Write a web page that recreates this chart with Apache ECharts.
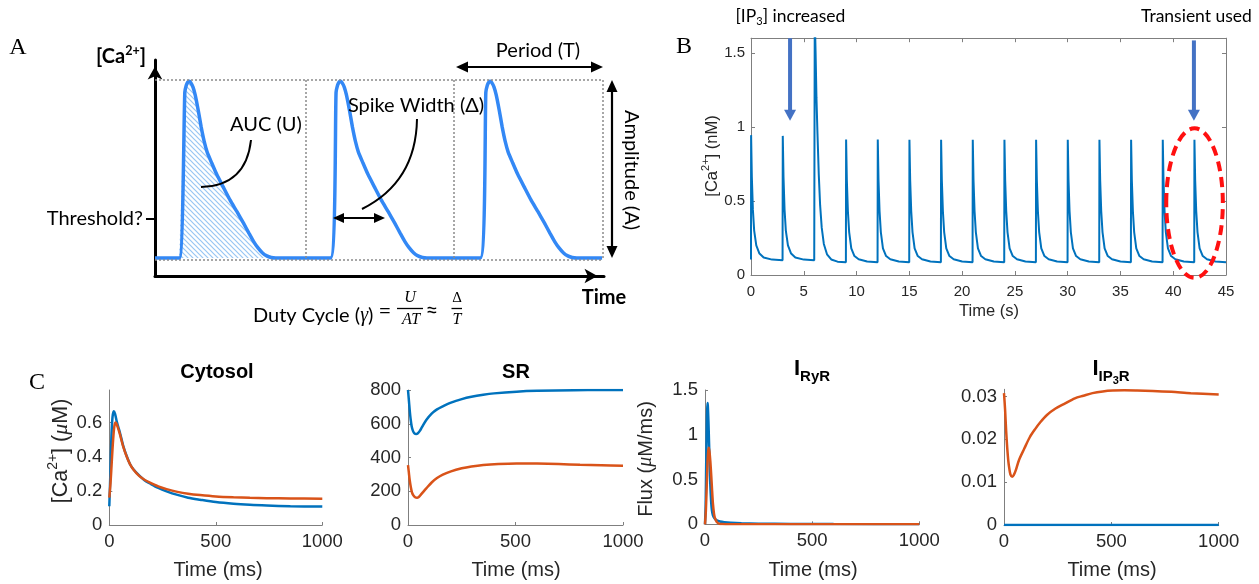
<!DOCTYPE html>
<html><head><meta charset="utf-8">
<script src="https://cdn.jsdelivr.net/npm/echarts@6/dist/echarts.min.js"></script>
<style>html,body{margin:0;padding:0;background:#fff}#c{width:1259px;height:584px}</style>
</head><body><div id="c"></div>
<script>
// ---------- Panel A (schematic) : time units, normalised [Ca2+] ----------
const aSpike1 = [[1.63,0],[2.0,0.93],[2.1,0.97],[2.2,0.988],[2.3,0.992],[2.4,0.985],[2.55,0.96],[2.7,0.915],[2.9,0.83],[3.1,0.735],[3.3,0.655],[3.5,0.595],[3.8,0.535],[4.14,0.47],[4.6,0.395],[5.03,0.326],[5.5,0.26],[5.93,0.197],[6.3,0.14],[6.6,0.095],[6.9,0.058],[7.2,0.03],[7.5,0.012],[7.8,0.003],[8.1,0]];
const aSpike2 = [[11.78,0],[12.15,0.93],[12.25,0.97],[12.35,0.988],[12.45,0.992],[12.55,0.985],[12.7,0.96],[12.85,0.915],[13.05,0.83],[13.25,0.735],[13.45,0.655],[13.65,0.595],[13.95,0.535],[14.29,0.47],[14.75,0.395],[15.18,0.326],[15.65,0.26],[16.08,0.197],[16.45,0.14],[16.75,0.095],[17.05,0.058],[17.35,0.03],[17.65,0.012],[17.95,0.003],[18.25,0]];
const aSpike3 = [[21.83,0],[22.2,0.93],[22.3,0.97],[22.4,0.988],[22.5,0.992],[22.6,0.985],[22.75,0.96],[22.9,0.915],[23.1,0.83],[23.3,0.735],[23.5,0.655],[23.7,0.595],[24.0,0.535],[24.34,0.47],[24.8,0.395],[25.23,0.326],[25.7,0.26],[26.13,0.197],[26.5,0.14],[26.8,0.095],[27.1,0.058],[27.4,0.03],[27.7,0.012],[28.0,0.003],[28.3,0]];
const aStart = [[0,0]];
const aEnd = [[30.0,0]];
const aPeriodLines = [10.1, 20.05, 30.05];

// ---------- Panel B : time (s), [Ca2+] (nM) ----------
const bTrace = [
 [0,0.105],[0.01,0.945],[0.08,0.66],[0.18,0.44],[0.3,0.3],[0.5,0.2],[0.8,0.145],[1.2,0.118],[2,0.104],[2.99,0.1],
 [3,0.1],[3.01,0.94],[3.08,0.66],[3.18,0.44],[3.3,0.3],[3.5,0.2],[3.8,0.145],[4.2,0.118],[5,0.104],[5.99,0.1],
 [6,0.1],[6.04,1.75],[6.12,1.5],[6.2,1.2],[6.3,0.95],[6.42,0.68],[6.55,0.47],[6.7,0.32],[6.9,0.21],[7.2,0.14],[7.6,0.105],[8.2,0.09],[8.99,0.086],
 [9,0.085],[9.01,0.915],[9.08,0.64],[9.18,0.43],[9.3,0.29],[9.5,0.18],[9.8,0.128],[10.2,0.106],[11,0.091],[11.99,0.086],
 [12,0.085],[12.01,0.915],[12.08,0.64],[12.18,0.43],[12.3,0.29],[12.5,0.18],[12.8,0.128],[13.2,0.106],[14,0.091],[14.99,0.086],
 [15,0.085],[15.01,0.913],[15.08,0.64],[15.18,0.43],[15.3,0.29],[15.5,0.18],[15.8,0.128],[16.2,0.106],[17,0.091],[17.99,0.086],
 [18,0.085],[18.01,0.913],[18.08,0.64],[18.18,0.43],[18.3,0.29],[18.5,0.18],[18.8,0.128],[19.2,0.106],[20,0.091],[20.99,0.086],
 [21,0.085],[21.01,0.913],[21.08,0.64],[21.18,0.43],[21.3,0.29],[21.5,0.18],[21.8,0.128],[22.2,0.106],[23,0.091],[23.99,0.086],
 [24,0.085],[24.01,0.913],[24.08,0.64],[24.18,0.43],[24.3,0.29],[24.5,0.18],[24.8,0.128],[25.2,0.106],[26,0.091],[26.99,0.086],
 [27,0.085],[27.01,0.913],[27.08,0.64],[27.18,0.43],[27.3,0.29],[27.5,0.18],[27.8,0.128],[28.2,0.106],[29,0.091],[29.99,0.086],
 [30,0.085],[30.01,0.913],[30.08,0.64],[30.18,0.43],[30.3,0.29],[30.5,0.18],[30.8,0.128],[31.2,0.106],[32,0.091],[32.99,0.086],
 [33,0.085],[33.01,0.913],[33.08,0.64],[33.18,0.43],[33.3,0.29],[33.5,0.18],[33.8,0.128],[34.2,0.106],[35,0.091],[35.99,0.086],
 [36,0.085],[36.01,0.913],[36.08,0.64],[36.18,0.43],[36.3,0.29],[36.5,0.18],[36.8,0.128],[37.2,0.106],[38,0.091],[38.99,0.086],
 [39,0.085],[39.01,0.913],[39.08,0.64],[39.18,0.43],[39.3,0.29],[39.5,0.18],[39.8,0.128],[40.2,0.106],[41,0.091],[41.99,0.086],
 [42,0.085],[42.01,0.913],[42.08,0.64],[42.18,0.43],[42.3,0.29],[42.5,0.18],[42.8,0.128],[43.2,0.106],[44,0.091],[45,0.086]
];
const bArrow1 = {t:3.7, top:1.6, tip:1.043};
const bArrow2 = {t:41.96, top:1.585, tip:1.043};
const bEllipse = {t:42.02, v:0.486, dt:2.68, dv:0.505};

// ---------- Panel C : time (ms) ----------
const cytoBlue = [[0,0.11],[5,0.3],[10,0.52],[15,0.63],[21,0.665],[27,0.65],[35,0.605],[42,0.575],[50,0.54],[65,0.465],[81,0.405],[97,0.357],[113,0.326],[140,0.29],[165,0.262],[191,0.243],[230,0.217],[269,0.197],[320,0.176],[370,0.16],[426,0.148],[500,0.134],[583,0.124],[660,0.118],[739,0.114],[850,0.11],[1000,0.108]];
const cytoOrange = [[0,0.16],[6,0.25],[12,0.38],[18,0.5],[24,0.58],[30,0.6],[36,0.585],[43,0.56],[50,0.53],[65,0.46],[81,0.402],[97,0.356],[113,0.325],[140,0.287],[165,0.265],[191,0.248],[230,0.226],[269,0.21],[320,0.194],[370,0.183],[426,0.175],[500,0.167],[583,0.162],[660,0.159],[739,0.157],[850,0.155],[1000,0.154]];
const srBlue = [[0,800],[4,740],[8,680],[12,630],[17,585],[23,558],[30,543],[38,539],[46,544],[55,558],[65,580],[85,622],[110,660],[135,685],[162,703],[200,725],[250,746],[295,760],[350,772],[400,780],[505,790],[600,795],[772,799],[900,800],[1000,800]];
const srOrange = [[0,355],[4,310],[8,265],[13,225],[18,195],[25,175],[33,164],[42,161],[50,166],[60,180],[72,198],[85,217],[110,252],[135,278],[162,298],[200,318],[250,336],[295,347],[350,356],[420,362],[505,365],[600,364],[700,361],[800,357],[900,354],[1000,351]];
const ryrBlue = [[0,0],[3,0.2],[6,0.75],[9,1.2],[11,1.355],[13,1.33],[16,1.15],[19,0.9],[22,0.65],[25,0.43],[28,0.28],[32,0.16],[37,0.1],[45,0.065],[55,0.045],[70,0.032],[90,0.024],[120,0.017],[170,0.011],[250,0.007],[400,0.004],[600,0.002],[1000,0.001]];
const ryrOrange = [[0,0],[4,0.15],[8,0.42],[12,0.7],[15,0.82],[18,0.855],[21,0.81],[25,0.7],[29,0.55],[33,0.38],[37,0.23],[42,0.12],[47,0.065],[55,0.025],[65,0.008],[80,0.002],[120,0],[1000,0]];
const ip3Blue = [[0,0],[1000,0]];
const ip3Orange = [[0,0.0308],[5,0.027],[10,0.022],[15,0.018],[20,0.015],[25,0.0131],[30,0.0118],[38,0.0113],[46,0.0117],[55,0.0128],[70,0.0152],[94,0.0178],[120,0.0205],[145,0.0224],[169,0.024],[200,0.0257],[240,0.0272],[281,0.0283],[330,0.0296],[370,0.0302],[412,0.0308],[460,0.0312],[506,0.0314],[560,0.03145],[620,0.0314],[693,0.0313],[780,0.0311],[870,0.0308],[1000,0.0305]];

// ---------- styling ----------
const BLUE_A = '#3388F5', MBLUE = '#0072BD', MORANGE = '#D95319';
const AX = '#7f7f7f', LAB = '#262626';
const SANS = 'Liberation Sans', CAL = 'Lato', SERIF = 'Liberation Serif';
const plain = v => String(+v.toFixed(6));

function hatchPattern(){
  const c = document.createElement('canvas'); c.width = 5; c.height = 5;
  const g = c.getContext('2d'); g.strokeStyle = '#98c6f3'; g.lineWidth = 1.2;
  g.beginPath(); g.moveTo(-1,-1); g.lineTo(6,6); g.moveTo(-1,4); g.lineTo(1,6); g.moveTo(4,-1); g.lineTo(6,1); g.stroke();
  return c;
}

const chart = echarts.init(document.getElementById('c'));

function gridDef(l,t,w,h){ return {left:l, top:t, width:w, height:h, containLabel:false, outerBoundsMode:'none'}; }
function cAxisX(grid){ return {gridIndex:grid, type:'value', min:0, max:1000, interval:500,
  axisLine:{show:true,onZero:false,lineStyle:{color:AX,width:1}},
  axisTick:{show:true,inside:true,length:3,lineStyle:{color:AX}},
  axisLabel:{color:LAB,fontSize:18.5,fontFamily:SANS,margin:7,formatter:plain},
  splitLine:{show:false}}; }
function cAxisY(grid,max,interval,showMax){ return {gridIndex:grid, type:'value', min:0, max, interval,
  axisLine:{show:true,onZero:false,lineStyle:{color:AX,width:1}},
  axisTick:{show:true,inside:true,length:3,lineStyle:{color:AX}},
  axisLabel:{color:LAB,fontSize:18.5,fontFamily:SANS,margin:7,showMaxLabel:showMax,formatter:plain},
  splitLine:{show:false}}; }
function ln(xi,yi,data,color,w,z,sm){ return {type:'line', xAxisIndex:xi, yAxisIndex:yi, data, showSymbol:false, symbol:'none',
  smooth:sm||false, lineStyle:{color, width:w}, itemStyle:{color}, z:z||2, silent:true, animation:false}; }

const aTrace = aStart.concat(aSpike1, aSpike2, aSpike3, aEnd);
const dotted = {type:[2,2], color:'#8a8a8a', width:1.5};
const aMarks = [[{coord:[0,1]},{coord:[aPeriodLines[2],1]}],[{coord:[0,-0.008]},{coord:[aPeriodLines[2],-0.008]}]]
  .concat(aPeriodLines.map(t=>[{coord:[t,0]},{coord:[t,1]}]));

const option = {
  animation:false,
  grid:[gridDef(155,60,449,216), gridDef(751,38.2,475,236.8), gridDef(109.3,390,213,135), gridDef(408,390,215,135), gridDef(705,390,214.3,134.3), gridDef(1004,389.3,214.7,135.7)],
  xAxis:[
    {gridIndex:0,type:'value',min:0,max:30.13,axisLine:{show:true,onZero:false,symbol:['none','arrow'],symbolSize:[11,13],symbolOffset:[0,-6.5],lineStyle:{color:'#000',width:3}},axisTick:{show:false},axisLabel:{show:false},splitLine:{show:false}},
    {gridIndex:1,type:'value',min:0,max:45,interval:5,axisLine:{show:true,onZero:false,lineStyle:{color:AX,width:1}},axisTick:{show:true,inside:true,length:4,lineStyle:{color:AX}},axisLabel:{color:LAB,fontSize:15,fontFamily:SANS,margin:9,formatter:plain},splitLine:{show:false}},
    {gridIndex:1,type:'value',position:'top',min:0,max:45,interval:5,axisLine:{show:true,onZero:false,lineStyle:{color:AX,width:1}},axisTick:{show:true,inside:true,length:4,lineStyle:{color:AX}},axisLabel:{show:false},splitLine:{show:false}},
    cAxisX(2), cAxisX(3), cAxisX(4), cAxisX(5)
  ],
  yAxis:[
    {gridIndex:0,type:'value',min:-0.101,max:1.112,axisLine:{show:true,onZero:false,symbol:['none','arrow'],symbolSize:[11,13],symbolOffset:[0,-6.5],lineStyle:{color:'#000',width:3}},axisTick:{show:false},axisLabel:{show:false},splitLine:{show:false}},
    {gridIndex:1,type:'value',min:0,max:1.6,interval:0.5,axisLine:{show:true,onZero:false,lineStyle:{color:AX,width:1}},axisTick:{show:true,inside:true,length:4,lineStyle:{color:AX}},axisLabel:{color:LAB,fontSize:15,fontFamily:SANS,margin:6,showMaxLabel:false,formatter:plain},splitLine:{show:false}},
    {gridIndex:1,type:'value',position:'right',min:0,max:1.6,interval:0.5,axisLine:{show:true,onZero:false,lineStyle:{color:AX,width:1}},axisTick:{show:true,inside:true,length:4,lineStyle:{color:AX}},axisLabel:{show:false},splitLine:{show:false}},
    cAxisY(2,0.79,0.2,false), cAxisY(3,800,200,true), cAxisY(4,1.5,0.5,true), cAxisY(5,0.0317,0.01,false)
  ],
  series:[
    ln(0,0,aTrace,BLUE_A,3.5,4,0.15),
    {type:'line', xAxisIndex:0, yAxisIndex:0, data:aSpike1, showSymbol:false, symbol:'none', smooth:0.15, lineStyle:{width:0}, z:2, silent:true,
     areaStyle:{color:{image:hatchPattern(), repeat:'repeat'}, opacity:1, origin:0},
     markLine:{silent:true, symbol:'none', label:{show:false}, lineStyle:dotted, animation:false, data:aMarks}},
    ln(1,1,bTrace,MBLUE,2),
    ln(3,3,cytoBlue,MBLUE,2.5,2,0.3), ln(3,3,cytoOrange,MORANGE,2.5,3,0.3),
    ln(4,4,srBlue,MBLUE,2.5,2,0.3), ln(4,4,srOrange,MORANGE,2.5,3,0.3),
    ln(5,5,ryrBlue,MBLUE,2.5,2,0.2), ln(5,5,ryrOrange,MORANGE,2.5,3,0.2),
    ln(6,6,ip3Blue,MBLUE,2.5,2), ln(6,6,ip3Orange,MORANGE,2.5,3,0.3)
  ]
};
chart.setOption(option);

// ---------- annotations ----------
const mctx = document.createElement('canvas').getContext('2d');
function tw(s,f){ mctx.font = f; return mctx.measureText(s).width; }
function T(x,y,text,font,o){ o=o||{}; return {type:'text', x, y, rotation:o.rot||0, silent:true, z:10,
  style:{text, font, fill:o.fill||'#000', align:o.align||'center', verticalAlign:o.va||'middle'}}; }
function comp(x,y,parts,o){ o=o||{}; let total=0; parts.forEach(p=>{p.w=tw(p.t,p.f); total+=p.w;});
  let cx = o.align==='left' ? 0 : -total/2; const ch=[];
  parts.forEach(p=>{ ch.push({type:'text', x:cx, y:p.dy||0, silent:true, style:{text:p.t, font:p.f, fill:p.c||o.fill||'#000', align:'left', verticalAlign:'middle'}}); cx+=p.w; });
  return {type:'group', x, y, rotation:o.rot||0, z:10, children:ch}; }
function head(tx,ty,ang,len,hw,fill){ const bx=tx-len*Math.cos(ang), by=ty-len*Math.sin(ang); const px=-Math.sin(ang)*hw, py=Math.cos(ang)*hw;
  return {type:'polygon', silent:true, z:10, shape:{points:[[tx,ty],[bx+px,by+py],[bx-px,by-py]]}, style:{fill}}; }
function dbl(x1,y1,x2,y2,len,hw,w,col){ const a=Math.atan2(y2-y1,x2-x1), k=len*0.7;
  return [{type:'line', silent:true, z:10, shape:{x1:x1+k*Math.cos(a), y1:y1+k*Math.sin(a), x2:x2-k*Math.cos(a), y2:y2-k*Math.sin(a)}, style:{stroke:col, lineWidth:w}},
          head(x2,y2,a,len,hw,col), head(x1,y1,a+Math.PI,len,hw,col)]; }
function curve(x1,y1,cx,cy,x2,y2){ return {type:'bezierCurve', silent:true, z:10, shape:{x1,y1,x2,y2,cpx1:cx,cpy1:cy}, style:{stroke:'#000', lineWidth:2, fill:'none'}}; }

const F = (s,w,fam)=> (w||'') + ' ' + s + 'px "' + (fam||CAL) + '"';
const G = [];
// Panel A
G.push(T(18,48,'A',F(24,'',SERIF)));
G.push(comp(121,57,[{t:'[Ca',f:F(20,'bold')},{t:'2+',f:F(12.5,'bold'),dy:-6},{t:']',f:F(20,'bold')}]));
G.push(T(604,298,'Time',F(20,'bold')));
G.push(T(143,219,'Threshold?',F(20),{align:'right'}));
G.push({type:'line', silent:true, z:10, shape:{x1:146,y1:219,x2:155,y2:219}, style:{stroke:'#000',lineWidth:2}});
G.push(T(266,125,'AUC (U)',F(20)));
G.push(curve(251,140,246,186,201,187));
G.push(T(416,106,'Spike Width (Δ)',F(20)));
G.push(curve(417,119,416,182,362,209));
G.push(...dbl(333,218,385,218,11,5,2.2,'#000'));
G.push(T(538,51,'Period (T)',F(20)));
G.push(...dbl(456,67,603,67,12,5.5,2.2,'#000'));
G.push(...dbl(612,80,612,258,12,5.5,2.2,'#000'));
G.push(T(631,170,'Amplitude (A)',F(20),{rot:-Math.PI/2}));
G.push(comp(253,316,[{t:'Duty Cycle (',f:F(20)},{t:'γ',f:'italic 20px "'+SERIF+'"'},{t:')',f:F(20)}],{align:'left'}));
G.push(T(385,311,'=',F(22)));
G.push({type:'line', silent:true, z:10, shape:{x1:397,y1:308.5,x2:423,y2:308.5}, style:{stroke:'#000',lineWidth:1.3}});
G.push(T(410,298,'U','italic 16px "'+SERIF+'"'));
G.push(T(411,320,'AT','italic 16px "'+SERIF+'"'));
G.push(T(432,310,'≈',F(22)));
G.push({type:'line', silent:true, z:10, shape:{x1:451.5,y1:308.5,x2:462,y2:308.5}, style:{stroke:'#000',lineWidth:1.3}});
G.push(T(457,298,'Δ','15px "'+SERIF+'"'));
G.push(T(457,320,'T','italic 16px "'+SERIF+'"'));
// Panel B
G.push(T(684,47,'B',F(24,'',SERIF)));
G.push(comp(735.5,16,[{t:'[IP',f:F(17.5)},{t:'3',f:F(11),dy:5},{t:'] increased',f:F(17.5)}],{align:'left'}));
G.push(T(1141,16,'Transient used',F(17.5),{align:'left'}));
G.push(T(989,311,'Time (s)',F(16.5,'',SANS),{fill:LAB}));
G.push(comp(712,156,[{t:'[Ca',f:F(16.5,'',SANS)},{t:'2+',f:F(11,'',SANS),dy:-6},{t:'] (nM)',f:F(16.5,'',SANS)}],{rot:Math.PI/2,fill:LAB}));
function bArrow(a){ const p1 = chart.convertToPixel({gridIndex:1},[a.t,a.top]); const p2 = chart.convertToPixel({gridIndex:1},[a.t,a.tip]);
  return [{type:'line', silent:true, z:10, shape:{x1:p1[0],y1:p1[1],x2:p2[0],y2:p2[1]-9}, style:{stroke:'#4472C4',lineWidth:4}}, head(p2[0],p2[1],Math.PI/2,11,6,'#4472C4')]; }
G.push(...bArrow(bArrow1), ...bArrow(bArrow2));
(function(){ const c = chart.convertToPixel({gridIndex:1},[bEllipse.t,bEllipse.v]); const e = chart.convertToPixel({gridIndex:1},[bEllipse.t+bEllipse.dt,bEllipse.v+bEllipse.dv]);
  G.push({type:'ellipse', silent:true, z:10, shape:{cx:c[0],cy:c[1],rx:Math.abs(e[0]-c[0]),ry:Math.abs(c[1]-e[1])}, style:{stroke:'#ff1010',lineWidth:4,lineDash:[10,6],fill:'none'}}); })();
// Panel C
G.push(T(37,383,'C',F(24,'',SERIF)));
G.push(T(217,372,'Cytosol',F(20,'bold',SANS)));
G.push(T(516,372,'SR',F(20,'bold',SANS)));
G.push(comp(812,369,[{t:'I',f:F(22,'bold',SANS)},{t:'RyR',f:F(15,'bold',SANS),dy:8}]));
G.push(comp(1111,369,[{t:'I',f:F(22,'bold',SANS)},{t:'IP',f:F(15,'bold',SANS),dy:8},{t:'3',f:F(11,'bold',SANS),dy:12},{t:'R',f:F(15,'bold',SANS),dy:8}]));
[218,516,813,1112].forEach(x=>G.push(T(x,570,'Time (ms)',F(20,'',SANS),{fill:LAB})));
G.push(comp(61,451,[{t:'[Ca',f:F(21.5,'',SANS)},{t:'2+',f:F(14,'',SANS),dy:-8},{t:'] (',f:F(21.5,'',SANS)},{t:'μ',f:'italic 22px "'+SERIF+'"'},{t:'M)',f:F(21.5,'',SANS)}],{rot:Math.PI/2,fill:LAB}));
G.push(comp(646,459,[{t:'Flux (',f:F(20,'',SANS)},{t:'μ',f:'italic 20px "'+SERIF+'"'},{t:'M/ms)',f:F(20,'',SANS)}],{rot:Math.PI/2,fill:LAB}));

chart.setOption({graphic:G});
</script></body></html>
